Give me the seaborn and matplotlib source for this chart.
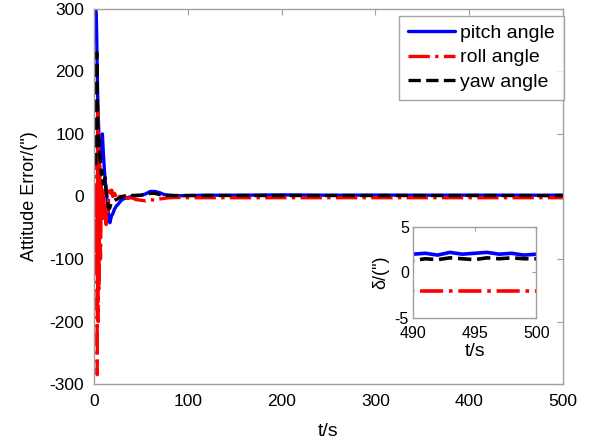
import numpy as np
import pandas as pd
import matplotlib
matplotlib.use("Agg")
import matplotlib.pyplot as plt
import seaborn as sns

# ---- data ----
t = [2, 2.5, 3, 3.5, 4, 4.5, 5, 5.5, 6, 7, 8, 9, 10, 11, 12, 13, 14, 15, 16, 17, 18, 19, 20,
     22, 24, 26, 28, 30, 33, 36, 40, 45, 50, 55, 60, 65, 70, 75, 80, 90, 100, 120, 150, 200,
     250, 300, 350, 400, 450, 490, 491, 492, 493, 494, 495, 496, 497, 498, 499, 500]
pitch = [300, 290, 250, 200, 160, 130, 110, 90, 75, 60, 80, 100, 70, 45, 25, 10, -5, -20, -35, -42, -35, -30, -28,
         -20, -15, -12, -8, -5, -3, -2, 0, 1, 2, 4, 8, 8, 6, 3, 2, 1, 1.5, 2, 2, 2.5,
         2, 2.2, 2, 2.1, 2, 2.0, 2.1, 1.9, 2.2, 2.0, 2.1, 2.2, 2.0, 2.1, 1.9, 2.0]
roll = [0, -120, 60, -285, 145, -200, 100, -150, 60, -100, 30, -40, 15, -30, -20, -45, -10, -25, 10, 15, 5, 10, 0,
        5, -2, 3, -1, 2, 0, -3, -2, -5, -6, -7, -5, -6, -4, -3, -2, -1.5, -2, -2, -2, -2,
        -2, -2, -2, -2, -2, -2, -2, -2, -2, -2, -2, -2, -2, -2, -2, -2]
yaw = [50, 150, 230, 180, 120, 100, 75, 90, 70, 50, 35, 40, 20, 25, 30, 10, -5, -15, -20, -18, -12, -10, -8,
       -6, -5, -3, -2, 0, 1, 1, 1.5, 2, 2, 3, 5, 5, 3, 2, 1.5, 1.5, 1.5, 1.5, 1.5, 1.5,
       1.5, 1.5, 1.5, 1.5, 1.5, 1.3, 1.5, 1.4, 1.6, 1.5, 1.4, 1.6, 1.5, 1.6, 1.5, 1.5]
labels = ["pitch angle", "roll angle", "yaw angle"]

df = pd.DataFrame({"t": t, "pitch": pitch, "roll": roll, "yaw": yaw})

sns.set_style("white")
plt.rcParams["font.family"] = ["Liberation Sans", "DejaVu Sans"]
plt.rcParams["axes.unicode_minus"] = False
plt.rcParams["text.color"] = "black"
plt.rcParams["axes.labelcolor"] = "black"
plt.rcParams["xtick.color"] = "black"
plt.rcParams["ytick.color"] = "black"

fig = plt.figure(figsize=(6.1, 4.44), dpi=100)
ax = fig.add_axes([0.154, 0.135, 0.769, 0.845])

styles = [("pitch", "#0000ff", "-"), ("roll", "#ff0000", "-."), ("yaw", "#000000", "--")]

def draw(a, lw):
    for (col, c, ls), lab in zip(styles, labels):
        sns.lineplot(data=df, x="t", y=col, ax=a, color=c, linestyle=ls, linewidth=lw, label=lab)

draw(ax, 2.4)
ax.set_xlim(0, 500)
ax.set_ylim(-300, 300)
ax.set_xticks([0, 100, 200, 300, 400, 500])
ax.set_yticks([-300, -200, -100, 0, 100, 200, 300])
ax.set_xlabel("t/s", fontsize=14, labelpad=10)
ax.set_ylabel("Attitude Error/(\")", fontsize=13, labelpad=8)
ax.tick_params(direction="in", labelsize=12.5, length=4, color="#a0a0a0",
               labelcolor="black", top=True, right=True, pad=7)
for s in ax.spines.values():
    s.set_color("#a0a0a0")
    s.set_linewidth(1.0)
leg = ax.legend(loc="upper right", bbox_to_anchor=(1.002, 0.982), fontsize=14,
                frameon=True, fancybox=False, borderaxespad=0.0, handlelength=2.4,
                handletextpad=0.3, labelspacing=0.35, borderpad=0.45)
leg.get_frame().set_edgecolor("#909090")
leg.get_frame().set_linewidth(1.0)

# inset
ins = fig.add_axes([0.677, 0.284, 0.202, 0.205])
draw(ins, 2.6)
ins.get_legend().remove()
ins.set_xlim(490, 500)
ins.set_ylim(-5, 5)
ins.set_xticks([490, 495, 500])
ins.set_yticks([-5, 0, 5])
ins.set_xlabel("t/s", fontsize=14, labelpad=1)
ins.set_ylabel("δ/(\")", fontsize=13, labelpad=4)
ins.tick_params(direction="in", labelsize=11.5, length=3, color="#a0a0a0",
                labelcolor="black", top=True, right=True, pad=3)
ins.tick_params(axis="x", pad=6)
for s in ins.spines.values():
    s.set_color("#a0a0a0")
    s.set_linewidth(1.0)

fig.savefig("out.png", dpi=100)
